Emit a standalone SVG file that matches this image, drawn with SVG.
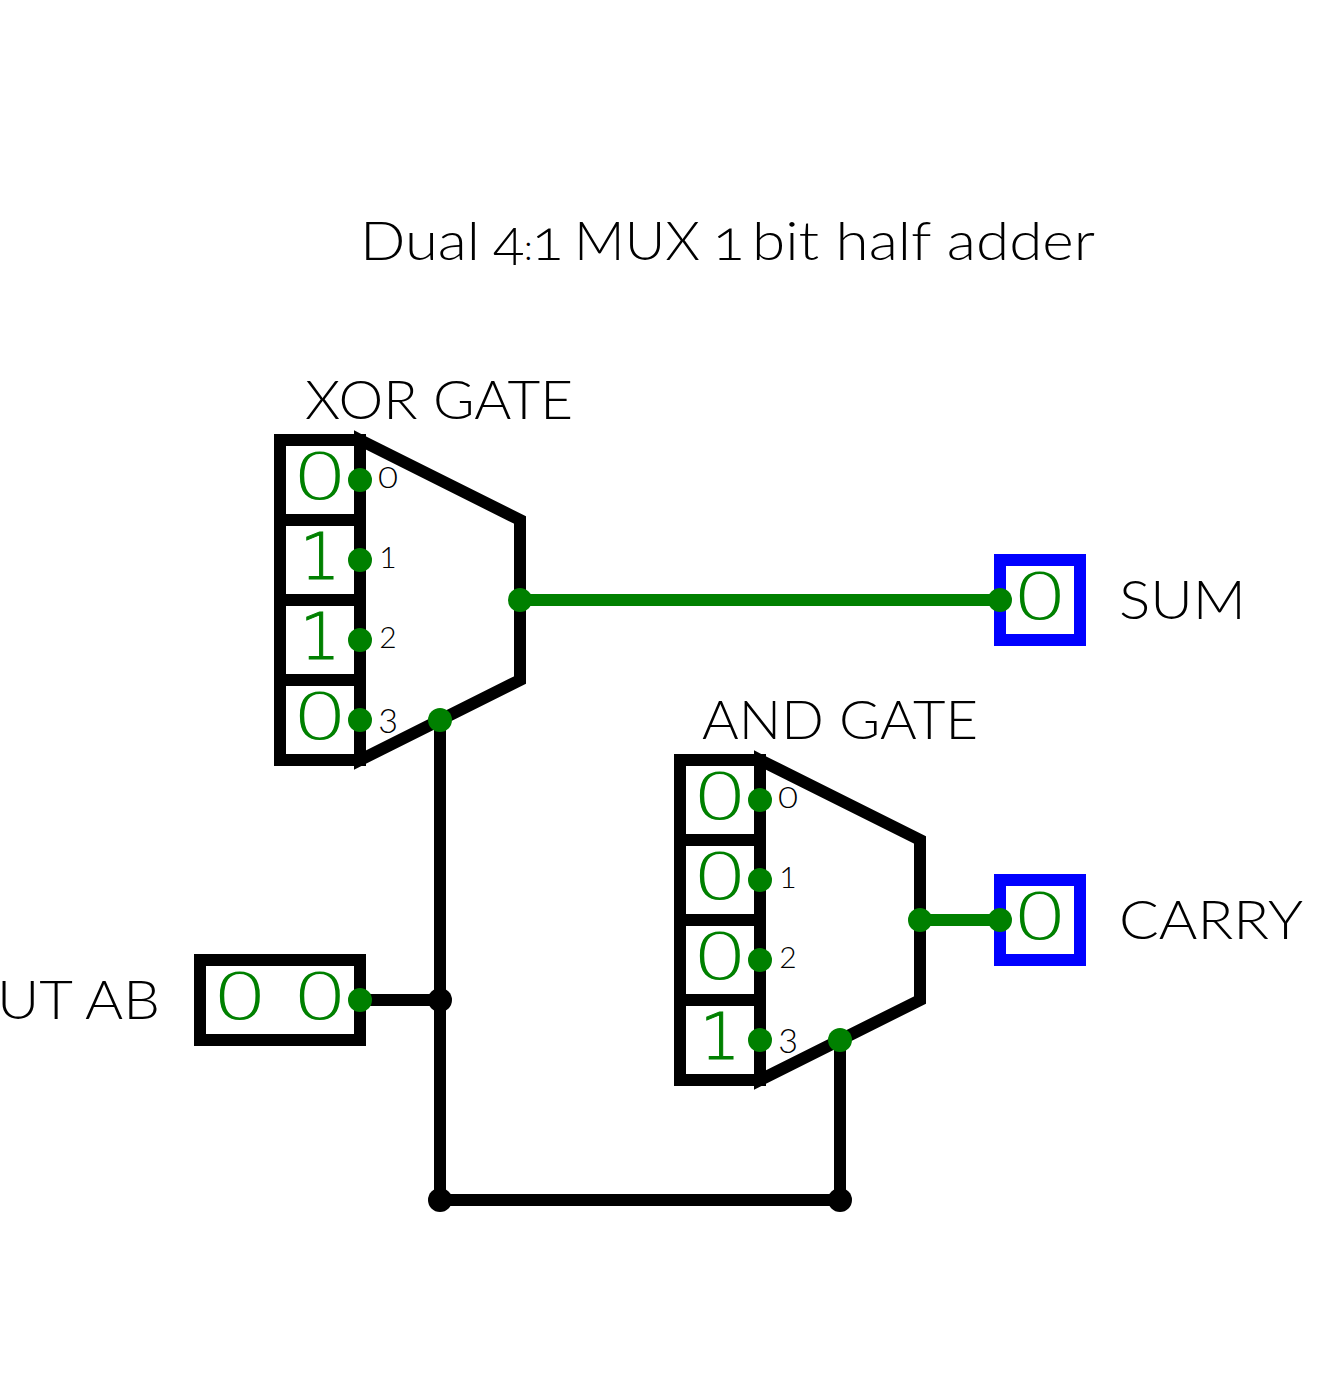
<svg xmlns="http://www.w3.org/2000/svg" width="1335" height="1400" viewBox="0 0 1335 1400">
<style>
.box{fill:none;stroke:#000;stroke-width:12}
.out{fill:none;stroke:#00f;stroke-width:12}
.w{fill:none;stroke:#000;stroke-width:12}
.g{fill:none;stroke:#008000;stroke-width:12}
.dg{fill:#008000}
.dk{fill:#000}
.t{font-family:"Lato","Noto Sans",sans-serif;font-weight:300;fill:#000;font-size:53px}
.v{font-family:"DejaVu Sans",sans-serif;font-weight:200;fill:#008000;font-size:64px}
.one{stroke:#008000;stroke-width:1;text-anchor:middle}
.p{font-family:"Lato","Noto Sans",sans-serif;font-weight:300;fill:#000;text-anchor:middle;font-size:30px}
.z{text-anchor:start}
.n{font-size:58px;font-variant-numeric:oldstyle-nums}
</style>
<rect width="1335" height="1400" fill="#fff"/>
<text id="title" class="t" y="260"><tspan x="360" textLength="120" lengthAdjust="spacingAndGlyphs">Dual</tspan><tspan class="n" x="493">4</tspan><tspan x="524" style="font-size:36px">:</tspan><tspan class="n" x="532">1</tspan><tspan x="574" textLength="126" lengthAdjust="spacingAndGlyphs">MUX</tspan><tspan class="n" x="713">1</tspan><tspan x="752" textLength="343" lengthAdjust="spacingAndGlyphs">bit half adder</tspan></text>
<g id="connectors">
<path class="w" d="M440 720V1200H840V1040"/>
<path class="w" d="M360 1000H440"/>
<path class="g" d="M520 600H1000"/>
<path class="g" d="M920 920H1000"/>
</g>
<g id="xor-gate">
<text class="t" x="305" y="419" textLength="268" lengthAdjust="spacingAndGlyphs">XOR GATE</text>
<path class="box" d="M280 440H360V520H280ZM280 520H360V600H280ZM280 600H360V680H280ZM280 680H360V760H280Z"/>
<path class="box" d="M360 440L520 520V680L360 760Z"/>
<text class="v" x="292" y="499" textLength="56" lengthAdjust="spacingAndGlyphs">0</text><text class="v one" x="320" y="579">1</text><text class="v one" x="320" y="659">1</text><text class="v" x="292" y="739" textLength="56" lengthAdjust="spacingAndGlyphs">0</text>
<text class="p z" x="378" y="488" textLength="20" lengthAdjust="spacingAndGlyphs">0</text><text class="p" x="388" y="568">1</text><text class="p" x="388" y="648">2</text><text class="p" x="388" y="733" style="font-size:34px">3</text>
<circle class="dg" cx="360" cy="480" r="12"/><circle class="dg" cx="360" cy="560" r="12"/><circle class="dg" cx="360" cy="640" r="12"/><circle class="dg" cx="360" cy="720" r="12"/>
<circle class="dg" cx="520" cy="600" r="12"/><circle class="dg" cx="440" cy="720" r="12"/>
</g>
<g id="and-gate">
<text class="t" x="702" y="739" textLength="276" lengthAdjust="spacingAndGlyphs">AND GATE</text>
<path class="box" d="M680 760H760V840H680ZM680 840H760V920H680ZM680 920H760V1000H680ZM680 1000H760V1080H680Z"/>
<path class="box" d="M760 760L920 840V1000L760 1080Z"/>
<text class="v" x="692" y="819" textLength="56" lengthAdjust="spacingAndGlyphs">0</text><text class="v" x="692" y="899" textLength="56" lengthAdjust="spacingAndGlyphs">0</text><text class="v" x="692" y="979" textLength="56" lengthAdjust="spacingAndGlyphs">0</text><text class="v one" x="720" y="1059">1</text>
<text class="p z" x="778" y="808" textLength="20" lengthAdjust="spacingAndGlyphs">0</text><text class="p" x="788" y="888">1</text><text class="p" x="788" y="968">2</text><text class="p" x="788" y="1053" style="font-size:34px">3</text>
<circle class="dg" cx="760" cy="800" r="12"/><circle class="dg" cx="760" cy="880" r="12"/><circle class="dg" cx="760" cy="960" r="12"/><circle class="dg" cx="760" cy="1040" r="12"/>
<circle class="dg" cx="920" cy="920" r="12"/><circle class="dg" cx="840" cy="1040" r="12"/>
</g>
<g id="input-ab">
<text class="t" x="-3" y="1019" textLength="163" lengthAdjust="spacingAndGlyphs">UT AB</text>
<rect class="box" x="200" y="960" width="160" height="80"/>
<text class="v" x="212" y="1019" textLength="56" lengthAdjust="spacingAndGlyphs">0</text><text class="v" x="292" y="1019" textLength="56" lengthAdjust="spacingAndGlyphs">0</text>
<circle class="dg" cx="360" cy="1000" r="12"/>
</g>
<g id="junctions">
<circle class="dk" cx="440" cy="1000" r="12"/><circle class="dk" cx="440" cy="1200" r="12"/><circle class="dk" cx="840" cy="1200" r="12"/>
</g>
<g id="sum">
<rect class="out" x="1000" y="560" width="80" height="80"/>
<text class="v" x="1012" y="619" textLength="56" lengthAdjust="spacingAndGlyphs">0</text>
<circle class="dg" cx="1000" cy="600" r="12"/>
<text class="t" x="1119" y="619" textLength="127" lengthAdjust="spacingAndGlyphs">SUM</text>
</g>
<g id="carry">
<rect class="out" x="1000" y="880" width="80" height="80"/>
<text class="v" x="1012" y="939" textLength="56" lengthAdjust="spacingAndGlyphs">0</text>
<circle class="dg" cx="1000" cy="920" r="12"/>
<text class="t" x="1119" y="939" textLength="184" lengthAdjust="spacingAndGlyphs">CARRY</text>
</g>
</svg>
